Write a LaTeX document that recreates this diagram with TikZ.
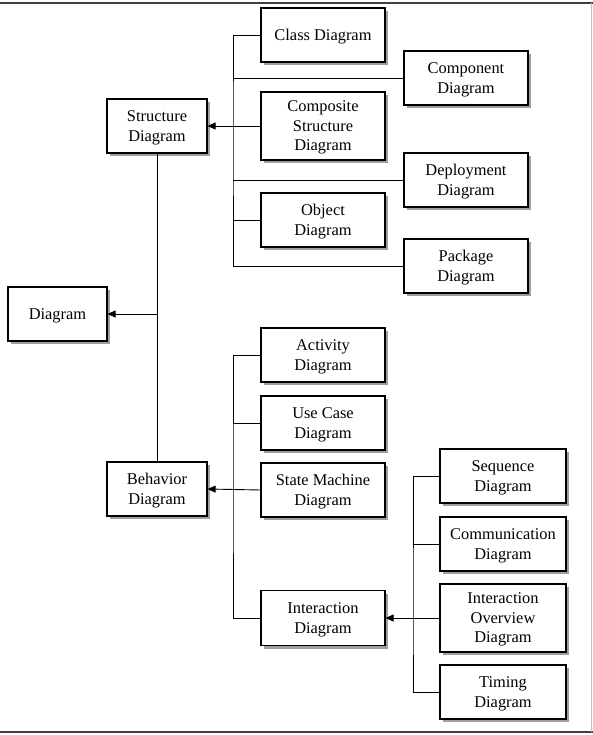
\documentclass[tikz,border=0pt]{standalone}
\usepackage{fontspec}
\setmainfont{Liberation Serif}
\usetikzlibrary{shadows,arrows.meta}

\tikzset{
  caja/.style={draw, line width=1.1pt, fill=white, align=center,
    minimum width=124pt, minimum height=54pt, inner sep=1pt, text depth=-2pt,
    font=\fontsize{16.4}{19.5}\selectfont,
    drop shadow={shadow xshift=3pt, shadow yshift=-3pt, fill=gray!75, opacity=1}},
  linea/.style={line width=0.9pt},
  flecha/.style={line width=0.9pt, -{Triangle[length=8pt,width=7pt]}}
}

\begin{document}
\begin{tikzpicture}[x=1pt, y=-1pt]
        \useasboundingbox (0,0) rectangle (593,735);

        % Marco
        \draw[line width=1.4pt, black!75] (0,3) -- (593,3);
        \draw[line width=1.4pt, black!75] (0,732) -- (593,732);
        \draw[line width=0.8pt, black!25] (591,3) -- (591,732);

        % Raiz
        \node[caja, minimum width=99pt] (dia) at (57.5,314) {Diagram};
        \node[caja, minimum width=100pt] (str) at (157,126) {Structure\\Diagram};
        \node[caja, minimum width=100pt] (beh) at (157,489) {Behavior\\Diagram};

        % Diagramas de estructura
        \node[caja] (cls) at (323,35) {Class Diagram};
        \node[caja] (cmp) at (466,78) {Component\\Diagram};
        \node[caja, minimum height=68pt] (cst) at (323,126) {Composite\\Structure\\Diagram};
        \node[caja] (dep) at (466,180) {Deployment\\Diagram};
        \node[caja] (obj) at (323,220) {Object\\Diagram};
        \node[caja] (pkg) at (466,266) {Package\\Diagram};

        % Diagramas de comportamiento
        \node[caja] (act) at (323,355) {Activity\\Diagram};
        \node[caja] (use) at (323,423) {Use Case\\Diagram};
        \node[caja] (stm) at (323,490) {State Machine\\Diagram};
        \node[caja, minimum height=55pt] (int) at (323,618) {Interaction\\Diagram};

        % Diagramas de interaccion
        \node[caja, minimum width=126pt] (seq) at (503,476) {Sequence\\Diagram};
        \node[caja, minimum width=126pt] (com) at (503,544) {Communication\\Diagram};
        \node[caja, minimum width=126pt, minimum height=68pt] (iov) at (503,618) {Interaction\\Overview\\Diagram};
        \node[caja, minimum width=126pt] (tim) at (503,692) {Timing\\Diagram};

        % Troncos
        \coordinate (ts) at (233,126);
        \coordinate (tb) at (233,490);
        \coordinate (ti) at (413,618);
        \coordinate (td) at (157,314);

        % Estructura
        \draw[linea] (cls.west) -| (ts) |- (pkg.west);
        \draw[linea] (cmp.west) -- (cmp.west -| ts);
        \draw[linea] (dep.west) -- (dep.west -| ts);
        \draw[linea] (obj.west) -- (obj.west -| ts);
        \draw[flecha] (cst.west) -- (str.east);

        % Comportamiento
        \draw[linea] (act.west) -| (tb) |- (int.west);
        \draw[linea] (use.west) -- (use.west -| tb);
        \draw[flecha] (stm.west) -- (beh.east);

        % Interaccion
        \draw[linea] (seq.west) -| (ti) |- (tim.west);
        \draw[linea] (com.west) -- (com.west -| ti);
        \draw[flecha] (iov.west) -- (int.east);

        % Raiz
        \draw[linea] (str.south) -- (beh.north);
        \draw[flecha] (td) -- (dia.east);
    \end{tikzpicture}
\end{document}
